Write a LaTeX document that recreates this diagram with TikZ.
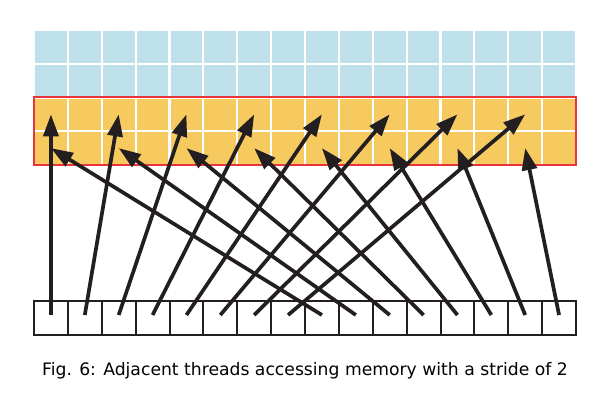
\documentclass[tikz,border=0pt]{standalone}
\usepackage{fontspec}
\setmainfont{DejaVu Sans}
\usetikzlibrary{positioning,arrows.meta}
\definecolor{memblue}{HTML}{BEE0EA}
\definecolor{memorange}{HTML}{F6CA5E}
\definecolor{tilered}{HTML}{E8343C}
\definecolor{ink}{HTML}{231F20}
\tikzstyle{cell} = [draw=white, line width=2.2pt, minimum width=33.875pt, minimum height=33.75pt, inner sep=0pt, outer sep=0pt]
\tikzstyle{thread} = [draw=ink, line width=2pt, fill=white, minimum width=33.875pt, minimum height=33.5pt, inner sep=0pt, outer sep=0pt]
\tikzstyle{access} = [draw=ink, line width=3.7pt, -{Triangle[length=22pt,width=15pt]}]

\begin{document}
\begin{tikzpicture}[x=1pt, y=-1pt, node distance=0pt]
    \useasboundingbox (0,0) rectangle (613,409);

    % memory rows, two blue and two orange
    \foreach \r/\shade in {1/memblue, 2/memblue, 3/memorange, 4/memorange} {
        \node[cell, fill=\shade] (cell-\r-0) at (50.94, {30 + (\r-0.5)*33.75}) {};
        \foreach \c [remember=\c as \p (initially 0)] in {1,...,15}
            \node[cell, fill=\shade, right=of cell-\r-\p] (cell-\r-\c) {};
    }
    \draw[tilered, line width=2pt] (cell-3-0.north west) rectangle (cell-4-15.south east);

    % threads
    \node[thread] (thread-0) at (50.94, 318) {};
    \foreach \t [remember=\t as \p (initially 0)] in {1,...,15}
        \node[thread, right=of thread-\p] (thread-\t) {};

    % stride 2
    \foreach \t in {0,...,15} {
        \pgfmathtruncatemacro{\row}{\t < 8 ? 3 : 4}
        \pgfmathtruncatemacro{\target}{mod(2*\t,16)}
        \draw[access] ([yshift=3pt]thread-\t.center) -- (cell-\row-\target.center);
    }

    \node[anchor=base, inner sep=0pt, font=\fontsize{17.2}{20}\selectfont] (caption) at (305, 375) {Fig. 6: Adjacent threads accessing memory with a stride of 2};
\end{tikzpicture}
\end{document}
